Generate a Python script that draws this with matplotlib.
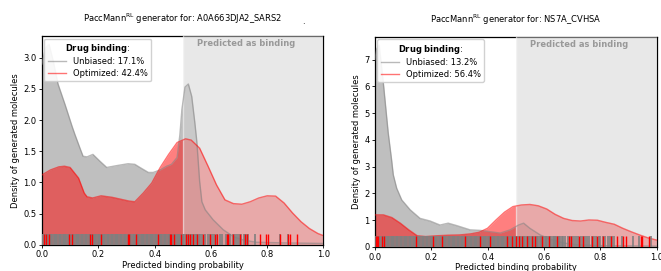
import matplotlib

matplotlib.use("Agg")
import matplotlib.pyplot as plt
from matplotlib.lines import Line2D

# --- A0A663DJA2_SARS2 panel -------------------------------------------------
left_unb_x = [0.0, 0.012, 0.025, 0.04, 0.057, 0.082, 0.107, 0.117, 0.135, 0.146,
              0.16, 0.181, 0.206, 0.23, 0.266, 0.306, 0.33, 0.348, 0.378, 0.395,
              0.42, 0.443, 0.46, 0.48, 0.49, 0.497, 0.508, 0.52, 0.532, 0.543,
              0.55, 0.56, 0.568, 0.58, 0.608, 0.644, 0.68, 0.715, 0.76, 0.85, 1.0]
left_unb_y = [2.9, 3.15, 3.22, 2.95, 2.58, 2.25, 1.9, 1.77, 1.55, 1.42,
              1.41, 1.45, 1.34, 1.24, 1.27, 1.30, 1.29, 1.24, 1.16, 1.16,
              1.2, 1.26, 1.29, 1.40, 1.77, 2.17, 2.53, 2.58, 2.38, 1.96,
              1.66, 1.02, 0.69, 0.56, 0.40, 0.24, 0.13, 0.076, 0.04, 0.03, 0.02]
left_opt_x = [0.0, 0.03, 0.06, 0.08, 0.1, 0.13, 0.15, 0.16, 0.18, 0.21, 0.25,
              0.28, 0.31, 0.33, 0.36, 0.39, 0.42, 0.45, 0.48, 0.51, 0.53, 0.56,
              0.59, 0.62, 0.65, 0.68, 0.71, 0.74, 0.77, 0.80, 0.83, 0.86, 0.89,
              0.92, 0.95, 0.98, 1.0]
left_opt_y = [1.12, 1.2, 1.25, 1.26, 1.24, 1.07, 0.83, 0.77, 0.75, 0.785, 0.76,
              0.73, 0.70, 0.69, 0.83, 0.99, 1.24, 1.45, 1.64, 1.70, 1.68, 1.55,
              1.26, 0.96, 0.72, 0.66, 0.65, 0.69, 0.75, 0.785, 0.78, 0.67, 0.51,
              0.37, 0.26, 0.18, 0.145]
left_rug_unb = [
    0.001, 0.005, 0.009, 0.014, 0.019, 0.023, 0.028, 0.032, 0.037, 0.041, 0.046,
    0.051, 0.055, 0.060, 0.064, 0.069, 0.074, 0.078, 0.083, 0.087, 0.092, 0.097,
    0.101, 0.106, 0.110, 0.115, 0.120, 0.124, 0.129, 0.133, 0.138, 0.143, 0.147,
    0.152, 0.156, 0.161, 0.166, 0.170, 0.175, 0.179, 0.184, 0.189, 0.193, 0.198,
    0.202, 0.207, 0.212, 0.216, 0.221, 0.225, 0.230, 0.235, 0.239, 0.244, 0.248,
    0.253, 0.258, 0.262, 0.267, 0.271, 0.276, 0.281, 0.285, 0.290, 0.294, 0.299,
    0.304, 0.308, 0.313, 0.317, 0.322, 0.327, 0.331, 0.336, 0.340, 0.345, 0.350,
    0.354, 0.359, 0.363, 0.368, 0.373, 0.377, 0.382, 0.386, 0.391, 0.396, 0.400,
    0.405, 0.409, 0.414, 0.419, 0.423, 0.428, 0.432, 0.437, 0.442, 0.446, 0.451,
    0.455, 0.460, 0.465, 0.469, 0.474, 0.478, 0.483, 0.488, 0.492, 0.497, 0.501,
    0.506, 0.511, 0.515, 0.520, 0.524, 0.529, 0.534, 0.538, 0.543, 0.547, 0.552,
    0.557, 0.561, 0.568, 0.579, 0.588, 0.596, 0.605, 0.612, 0.620, 0.631, 0.640,
    0.652, 0.660, 0.668, 0.677, 0.686, 0.694, 0.700, 0.708, 0.716, 0.722, 0.728,
    0.733, 0.757, 0.845, 0.875]
left_rug_opt = [0.008, 0.013, 0.026, 0.097, 0.108, 0.17, 0.176, 0.21, 0.305, 0.31,
                0.335, 0.413, 0.456, 0.46, 0.47, 0.495, 0.513, 0.52, 0.526, 0.538,
                0.55, 0.573, 0.597, 0.614, 0.62, 0.656, 0.66, 0.68, 0.703, 0.72,
                0.728, 0.773, 0.797, 0.803, 0.845, 0.875, 0.88, 0.905]

# --- NS7A_CVHSA panel -------------------------------------------------------
right_unb_x = [0.0, 0.006, 0.015, 0.03, 0.047, 0.059, 0.065, 0.077, 0.095, 0.125,
               0.16, 0.196, 0.231, 0.26, 0.29, 0.338, 0.374, 0.41, 0.445, 0.48,
               0.51, 0.528, 0.55, 0.587, 0.62, 0.67, 0.72, 0.8, 1.0]
right_unb_y = [7.0, 7.4, 7.55, 6.1, 4.27, 3.26, 2.7, 2.2, 1.76, 1.39,
               1.07, 0.97, 0.82, 0.89, 0.80, 0.64, 0.62, 0.57, 0.52, 0.64,
               0.82, 0.89, 0.70, 0.45, 0.30, 0.15, 0.08, 0.05, 0.03]
right_opt_x = [0.0, 0.03, 0.06, 0.09, 0.12, 0.15, 0.18, 0.22, 0.26, 0.30, 0.34,
               0.37, 0.40, 0.43, 0.46, 0.49, 0.52, 0.55, 0.58, 0.61, 0.64, 0.67,
               0.70, 0.73, 0.76, 0.79, 0.82, 0.85, 0.88, 0.91, 0.94, 0.97, 1.0]
right_opt_y = [1.2, 1.2, 1.1, 0.89, 0.64, 0.42, 0.39, 0.42, 0.44, 0.45, 0.49,
               0.55, 0.70, 1.01, 1.30, 1.51, 1.57, 1.59, 1.54, 1.42, 1.22, 1.07,
               0.99, 0.97, 1.01, 1.0, 0.92, 0.85, 0.70, 0.57, 0.45, 0.34, 0.26]
right_rug_unb = [
    0.002, 0.006, 0.010, 0.015, 0.019, 0.024, 0.028, 0.033, 0.037, 0.042, 0.047,
    0.051, 0.056, 0.060, 0.065, 0.069, 0.074, 0.079, 0.083, 0.088, 0.092, 0.097,
    0.102, 0.106, 0.111, 0.115, 0.120, 0.125, 0.129, 0.134, 0.138, 0.143, 0.148,
    0.152, 0.157, 0.161, 0.166, 0.171, 0.175, 0.180, 0.184, 0.189, 0.194, 0.198,
    0.203, 0.207, 0.212, 0.217, 0.221, 0.226, 0.230, 0.235, 0.240, 0.244, 0.249,
    0.253, 0.258, 0.263, 0.267, 0.272, 0.276, 0.281, 0.286, 0.290, 0.295, 0.299,
    0.304, 0.309, 0.313, 0.318, 0.322, 0.327, 0.332, 0.336, 0.341, 0.345, 0.350,
    0.355, 0.359, 0.364, 0.368, 0.373, 0.378, 0.382, 0.387, 0.391, 0.396, 0.401,
    0.405, 0.410, 0.414, 0.419, 0.424, 0.428, 0.433, 0.437, 0.442, 0.447, 0.451,
    0.456, 0.460, 0.465, 0.470, 0.474, 0.479, 0.483, 0.488, 0.493, 0.497, 0.502,
    0.506, 0.511, 0.516, 0.520, 0.525, 0.529, 0.534, 0.539, 0.543, 0.548, 0.552,
    0.557, 0.562, 0.566, 0.571, 0.575, 0.580, 0.585, 0.589, 0.594, 0.598, 0.603,
    0.608, 0.612, 0.617, 0.621, 0.626, 0.631, 0.635, 0.640, 0.644, 0.649, 0.654,
    0.658, 0.663, 0.668, 0.676, 0.684, 0.691, 0.699, 0.707, 0.714, 0.722, 0.731,
    0.738, 0.746, 0.753, 0.761, 0.770, 0.777, 0.785, 0.794, 0.801, 0.810, 0.818,
    0.826, 0.834, 0.842, 0.848, 0.878, 0.917, 0.938, 0.981]
right_rug_opt = [0.002, 0.007, 0.012, 0.026, 0.033, 0.146, 0.207, 0.237, 0.32,
                 0.374, 0.41, 0.47, 0.488, 0.50, 0.51, 0.523, 0.54, 0.557, 0.57,
                 0.593, 0.617, 0.647, 0.689, 0.695, 0.725, 0.74, 0.77, 0.79, 0.81,
                 0.84, 0.86, 0.88, 0.89, 0.945, 0.95, 0.975]

FS = 6


def plot_panel(ax, target, unb, opt, rug_unb, rug_opt, labels, ylim, yticks):
    """Draw one density panel with rug marks and the 'binding' region."""
    ux, uy = unb
    ox, oy = opt
    ax.fill_between(ux, uy, color="gray", alpha=0.5, lw=0, zorder=1)
    ax.fill_between(ox, oy, color="red", alpha=0.5, lw=0, zorder=2)
    ax.axvspan(0.5, 1.0, color="lightgray", alpha=0.5, lw=0, zorder=3)
    ax.axvline(0.5, color="white", alpha=0.45, lw=1, zorder=3)
    ax.plot(ux, uy, color="gray", alpha=0.55, lw=1, zorder=4)
    ax.plot(ox, oy, color="red", alpha=0.55, lw=1, zorder=4)

    trans = ax.get_xaxis_transform()
    ax.vlines(rug_unb, 0, 0.05, color="gray", lw=1.2, transform=trans, zorder=5)
    ax.vlines(rug_opt, 0, 0.05, color="red", lw=1.0, transform=trans, zorder=6)

    ax.text(0.55, 0.985, "Predicted as binding", transform=trans, ha="left",
            va="top", fontsize=FS, fontweight="bold", color="#999999", zorder=7)

    ax.set_xlim(0, 1)
    ax.set_ylim(*ylim)
    ax.set_xticks([0.0, 0.2, 0.4, 0.6, 0.8, 1.0])
    ax.set_yticks(yticks)
    ax.tick_params(labelsize=FS, length=2.5, width=0.6, pad=1.5)
    for spine in ax.spines.values():
        spine.set_linewidth(0.9)
    ax.set_xlabel("Predicted binding probability", fontsize=FS, labelpad=1)
    ax.set_ylabel("Density of generated molecules", fontsize=FS, labelpad=2)
    ax.set_title(f"PaccMann$^{{\\mathrm{{RL}}}}$ generator for: {target}",
                 fontsize=FS, pad=10)

    handles = [Line2D([], [], color="gray", alpha=0.55, lw=1),
               Line2D([], [], color="red", alpha=0.55, lw=1)]
    leg = ax.legend(handles, labels, loc="upper left", fontsize=FS,
                    title=r"$\bf{Drug\ binding}$:", title_fontsize=FS,
                    borderaxespad=0.3, handlelength=2.2, labelspacing=0.3,
                    borderpad=0.4, framealpha=0.9)
    leg.set_zorder(10)


fig = plt.figure(figsize=(6.61, 2.71), dpi=100)
ax1 = fig.add_axes([0.0635, 0.097, 0.4259, 0.770])
ax2 = fig.add_axes([0.5673, 0.0886, 0.4259, 0.775])

plot_panel(ax1, "A0A663DJA2_SARS2", (left_unb_x, left_unb_y),
           (left_opt_x, left_opt_y), left_rug_unb, left_rug_opt,
           ["Unbiased: 17.1%", "Optimized: 42.4%"], (0, 3.35),
           [0.0, 0.5, 1.0, 1.5, 2.0, 2.5, 3.0])
plot_panel(ax2, "NS7A_CVHSA", (right_unb_x, right_unb_y),
           (right_opt_x, right_opt_y), right_rug_unb, right_rug_opt,
           ["Unbiased: 13.2%", "Optimized: 56.4%"], (0, 7.85),
           [0, 1, 2, 3, 4, 5, 6, 7])

fig.text(303 / 661, 1 - 22 / 271, ".", fontsize=FS, ha="center", va="center")

fig.savefig("out.png", dpi=100)
